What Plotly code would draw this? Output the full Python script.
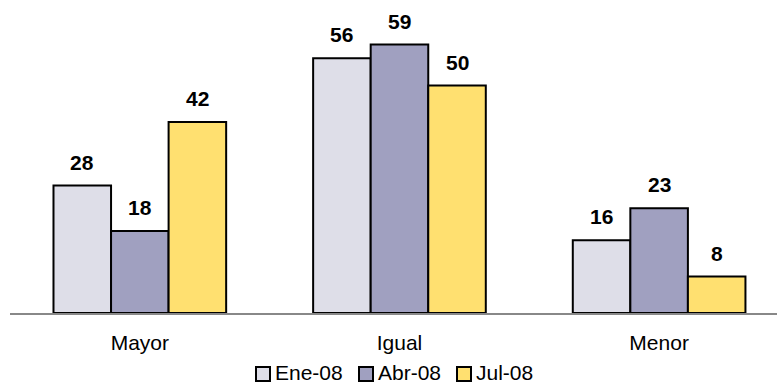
import plotly.graph_objects as go

categories = ["Mayor", "Igual", "Menor"]
series_names = ["Ene-08", "Abr-08", "Jul-08"]
ene_08 = [28, 56, 16]
abr_08 = [18, 59, 23]
jul_08 = [42, 50, 8]
colors = ["#DEDEE8", "#A0A0C0", "#FFE070"]
series_values = [ene_08, abr_08, jul_08]

FONT = "Liberation Sans, Arial, sans-serif"
W, H = 777, 385
ML, MR, MT, MB = 10, 0, 10, 72
XRANGE = [-0.5, 2.454]
YRANGE = [0, 66.6]
BARGAP = 0.335

plot_w = W - ML - MR
plot_h = H - MT - MB
px_per_cat = plot_w / (XRANGE[1] - XRANGE[0])
bar_px = px_per_cat * (1 - BARGAP) / len(series_names)

fig = go.Figure()
for i, (name, vals, col) in enumerate(zip(series_names, series_values, colors)):
    fig.add_trace(go.Bar(
        x=categories, y=vals, name=name,
        marker=dict(color=col, line=dict(color="black", width=2)),
        showlegend=False,
    ))
    for cat, v in zip(categories, vals):
        fig.add_annotation(
            x=cat, y=v, xref="x", yref="y", text=f"<b>{v}</b>", showarrow=False,
            xanchor="center", yanchor="bottom",
            xshift=(i - (len(series_names) - 1) / 2) * bar_px, yshift=10,
            font=dict(family=FONT, size=21, color="black"),
        )

# custom legend (squares + labels) below the plot
legend_sq_left = [256, 359, 457]
legend_cy = 374
text_cy = 372.5
sq = 14
for name, col, lx in zip(series_names, colors, legend_sq_left):
    x0 = (lx - ML) / plot_w
    x1 = (lx + sq - ML) / plot_w
    y0 = (MT + plot_h - (legend_cy + sq / 2)) / plot_h
    y1 = (MT + plot_h - (legend_cy - sq / 2)) / plot_h
    fig.add_shape(type="rect", xref="paper", yref="paper", x0=x0, x1=x1, y0=y0, y1=y1,
                  fillcolor=col, line=dict(color="black", width=2))
    fig.add_annotation(x=(lx + sq + 4 - ML) / plot_w, y=(MT + plot_h - text_cy) / plot_h,
                       xref="paper", yref="paper", text=name, showarrow=False,
                       xanchor="left", yanchor="middle", borderpad=0,
                       font=dict(family=FONT, size=21, color="black"))

fig.update_layout(
    width=W, height=H,
    margin=dict(l=ML, r=MR, t=MT, b=MB, autoexpand=False),
    paper_bgcolor="white", plot_bgcolor="white",
    barmode="group", bargap=BARGAP, bargroupgap=0,
    font=dict(family=FONT, size=21, color="black"),
    xaxis=dict(range=XRANGE, showline=True, linecolor="#888888", linewidth=2,
               ticks="", showgrid=False, automargin=False, ticklabelstandoff=10,
               tickfont=dict(size=21)),
    yaxis=dict(range=YRANGE, visible=False, showgrid=False, automargin=False),
    showlegend=False,
)
fig.write_html("out.html", config={"displayModeBar": False},
               post_script="document.body.style.margin='0';document.body.style.overflow='hidden';")
